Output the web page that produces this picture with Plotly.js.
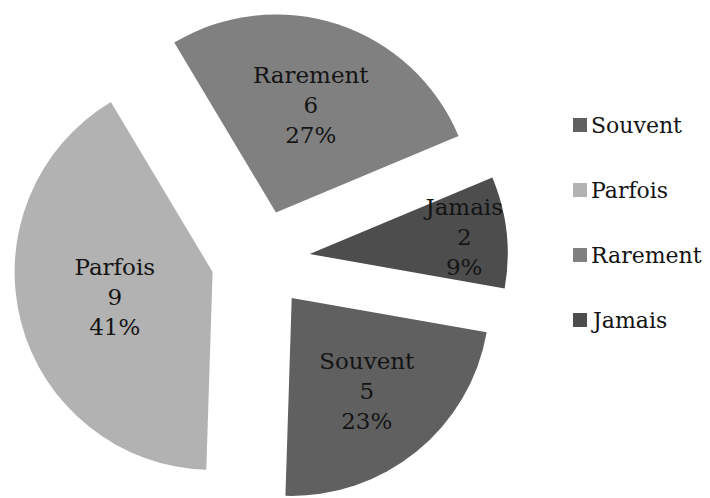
<!DOCTYPE html>
<html>
<head>
<meta charset="utf-8">
<script src="https://cdn.plot.ly/plotly-3.0.1.min.js"></script>
<style>
  html, body { margin: 0; padding: 0; overflow: hidden; background: #fff; }
  #chart { width: 710px; height: 508px; }
</style>
</head>
<body>
<div id="chart"></div>
<script>
// Data
const categories = ['Souvent', 'Parfois', 'Rarement', 'Jamais'];
const counts = [5, 9, 6, 2];
const sliceColors = ['#606060', '#b2b2b2', '#808080', '#4d4d4d'];

// Layout constants (pixels)
const W = 710, H = 508, MT = 12, MB = 1;
const plotH = H - MT - MB;
const FONT = 'DejaVu Serif, Liberation Serif, serif';
const TEXT_COLOR = '#141414';

function px2x(px) { return px / W; }
function py2y(py) { return 1 - (py - MT) / plotH; }

const trace = {
  type: 'pie',
  labels: categories,
  values: counts,
  sort: false,
  direction: 'clockwise',
  rotation: 100,
  pull: categories.map(() => 0.25),
  marker: { colors: sliceColors, line: { width: 0 } },
  texttemplate: '%{label}<br>%{value}<br>%{percent:.0%}',
  textposition: 'inside',
  insidetextorientation: 'horizontal',
  textfont: { family: FONT, size: 23, color: TEXT_COLOR },
  hoverinfo: 'label+value+percent',
  showlegend: false,
  domain: { x: [px2x(13), px2x(508)], y: [0, 1] }
};

// Legend drawn as shapes + annotations (Excel-style wide spacing)
const legendX = 573, legendSq = 14, legendTop = 125, legendStep = 65;
const shapes = [], annotations = [];
categories.forEach((c, i) => {
  const cy = legendTop + i * legendStep;
  shapes.push({
    type: 'rect', xref: 'paper', yref: 'paper',
    x0: px2x(legendX), x1: px2x(legendX + legendSq),
    y0: py2y(cy - legendSq / 2), y1: py2y(cy + legendSq / 2),
    fillcolor: sliceColors[i], line: { width: 0 }
  });
  annotations.push({
    xref: 'paper', yref: 'paper',
    x: px2x(legendX + legendSq + 2), y: py2y(cy),
    xanchor: 'left', yanchor: 'middle',
    text: c, showarrow: false,
    font: { family: FONT, size: 22, color: TEXT_COLOR }
  });
});

const layout = {
  width: W, height: H,
  margin: { l: 0, r: 0, t: MT, b: MB, pad: 0 },
  paper_bgcolor: '#ffffff',
  plot_bgcolor: '#ffffff',
  showlegend: false,
  uniformtext: { mode: 'show', minsize: 23 },
  shapes: shapes,
  annotations: annotations
};

Plotly.newPlot('chart', [trace], layout, { displayModeBar: false, staticPlot: true });
</script>
</body>
</html>
